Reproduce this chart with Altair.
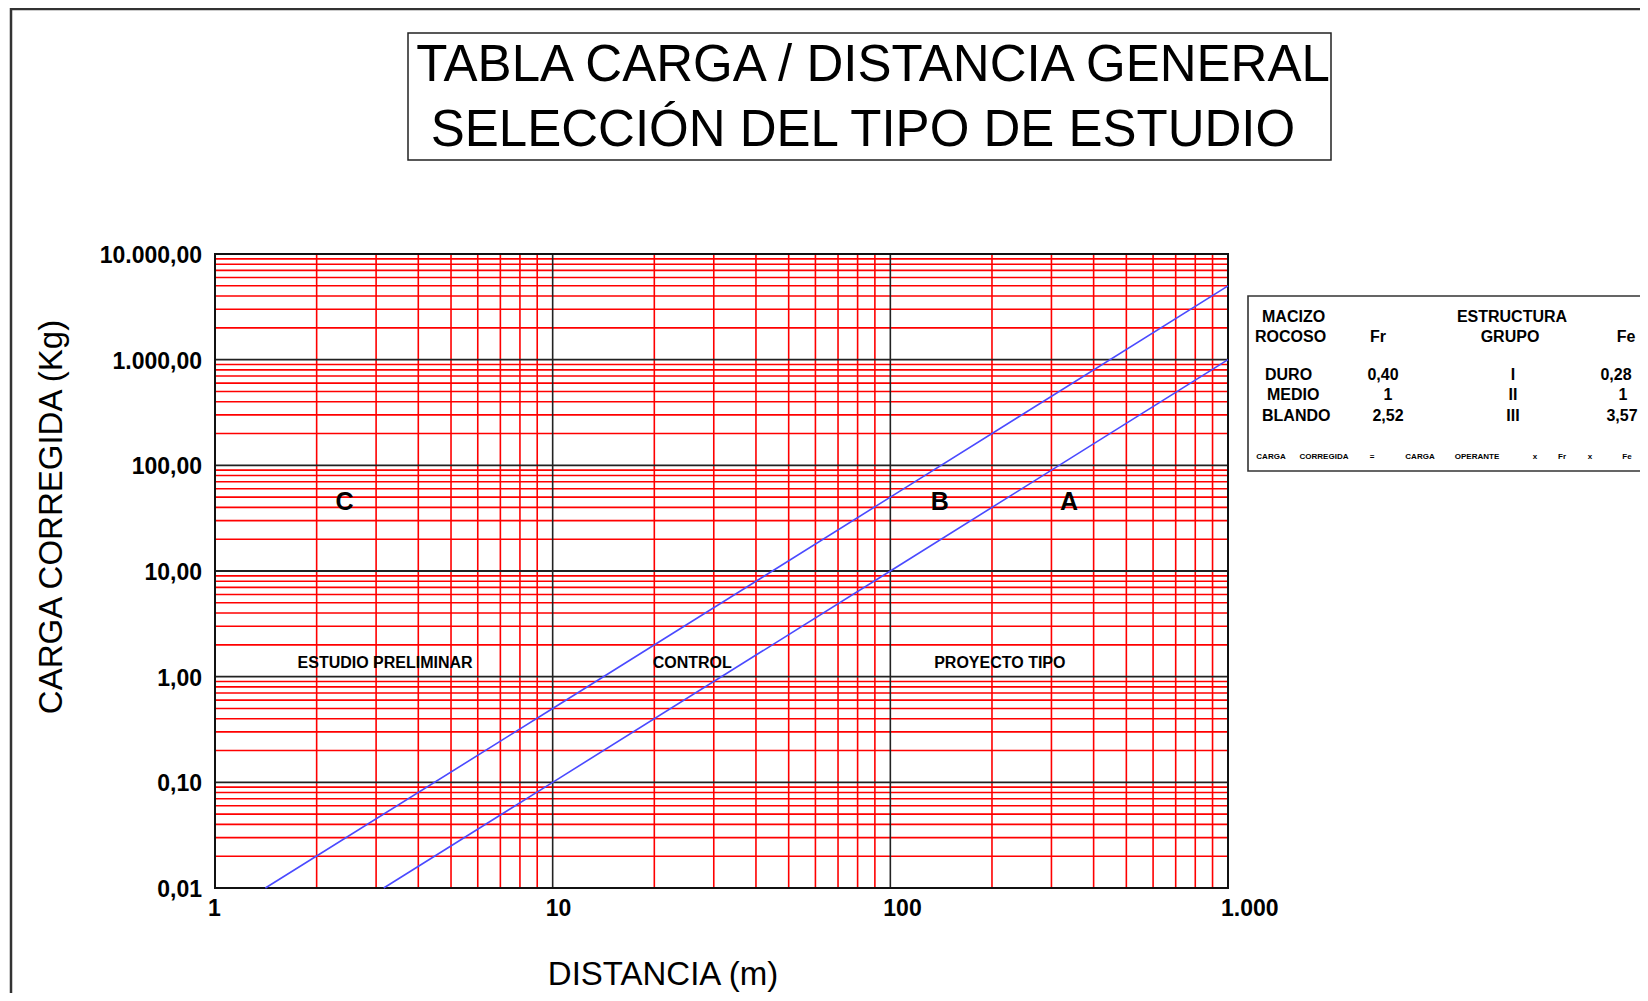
import altair as alt
import pandas as pd

# ---------------- data ----------------
x_minor = [2, 3, 4, 5, 6, 7, 8, 9, 20, 30, 40, 50, 60, 70, 80, 90,
           200, 300, 400, 500, 600, 700, 800, 900]
x_major = [10, 100]
y_minor = [0.02, 0.03, 0.04, 0.05, 0.06, 0.07, 0.08, 0.09,
           0.2, 0.3, 0.4, 0.5, 0.6, 0.7, 0.8, 0.9,
           2, 3, 4, 5, 6, 7, 8, 9,
           20, 30, 40, 50, 60, 70, 80, 90,
           200, 300, 400, 500, 600, 700, 800, 900,
           2000, 3000, 4000, 5000, 6000, 7000, 8000, 9000]
y_major = [0.1, 1, 10, 100, 1000]

x_ticks = [1, 10, 100, 1000]
x_tick_labels = ["1", "10", "100", "1.000"]
y_ticks = [0.01, 0.1, 1, 10, 100, 1000, 10000]
y_tick_labels = ["0,01", "0,10", "1,00", "10,00", "100,00", "1.000,00", "10.000,00"]

line_b_dist = [1.41, 10, 100, 1000]
line_b_load = [0.01, 0.5, 50, 5000]
line_a_dist = [3.16, 10, 100, 1000]
line_a_load = [0.01, 0.1, 10, 1000]

zone_letters = ["C", "B", "A"]
zone_letter_dist = [2.42, 140, 338]
zone_letter_load = [45, 45, 45]

zone_names = ["ESTUDIO PRELIMINAR", "CONTROL", "PROYECTO TIPO"]
zone_name_dist = [3.19, 25.9, 211]
zone_name_load = [1.36, 1.36, 1.36]

title_lines = ["TABLA CARGA / DISTANCIA GENERAL", "SELECCIÓN DEL TIPO DE ESTUDIO"]
x_title = "DISTANCIA (m)"
y_title = "CARGA CORREGIDA (Kg)"

# side table contents
tbl_left_text = ["MACIZO", "ROCOSO", "DURO", "MEDIO", "BLANDO"]
tbl_center_text = ["Fr", "ESTRUCTURA", "GRUPO", "Fe",
                   "0,40", "1", "2,52", "I", "II", "III", "0,28", "1", "3,57"]
formula_words = ["CARGA", "CORREGIDA", "=", "CARGA", "OPERANTE", "x", "Fr", "x", "Fe"]

# ---------------- layout (pixels, relative to plot origin) ----------------
W, H = 1013, 634
OX, OY = 215, 254  # plot origin on page
tbl_left_pos = [(1262, 322), (1255, 342), (1265, 380), (1267, 400), (1262, 421)]
tbl_center_pos = [(1378, 342), (1512, 322), (1510, 342), (1626, 342),
                  (1383, 380), (1388, 400), (1388, 421),
                  (1513, 380), (1513, 400), (1513, 421),
                  (1616, 380), (1623, 400), (1622, 421)]
formula_pos_x = [1271, 1324, 1372, 1420, 1477, 1535, 1562, 1590, 1627]
formula_y = 459

FONT = "Liberation Sans"
xscale = alt.Scale(type="log", domain=[1, 1000], nice=False)
yscale = alt.Scale(type="log", domain=[0.01, 10000], nice=False)

one = pd.DataFrame({"a": [0]})
PX = dict(scale=None, axis=None)


def pix_text(df, **mk):
    return alt.Chart(df).mark_text(font=FONT, color="black", **mk).encode(
        x=alt.X("px:Q", **PX), y=alt.Y("py:Q", **PX), text="t:N")


# outer frame
outer = alt.Chart(one).mark_rect(fillOpacity=0, stroke="#333", strokeWidth=2.5).encode(
    x=alt.value(11 - OX), x2=alt.value(1700 - OX),
    y=alt.value(9 - OY), y2=alt.value(1050 - OY))

# title box
title_box = alt.Chart(one).mark_rect(fillOpacity=0, stroke="#222", strokeWidth=1.5).encode(
    x=alt.value(408 - OX), x2=alt.value(1331 - OX),
    y=alt.value(33 - OY), y2=alt.value(160 - OY))

title_txt = pix_text(pd.DataFrame({"t": title_lines,
                                   "px": [873 - OX, 863 - OX],
                                   "py": [81 - OY, 146 - OY]}),
                     fontSize=51, align="center", baseline="alphabetic")

# axis titles
ytitle = pix_text(pd.DataFrame({"t": [y_title], "px": [52 - OX], "py": [517 - OY]}),
                  fontSize=33, angle=270, align="center", baseline="middle")
xtitle = pix_text(pd.DataFrame({"t": [x_title], "px": [663 - OX], "py": [975 - OY]}),
                  fontSize=33, align="center", baseline="middle")

# grid
vx_minor = alt.Chart(pd.DataFrame({"v": x_minor})).mark_rule(color="#ff0000", strokeWidth=1.6).encode(
    x=alt.X("v:Q", scale=xscale, axis=None))
hy_minor = alt.Chart(pd.DataFrame({"v": y_minor})).mark_rule(color="#ff0000", strokeWidth=1.6).encode(
    y=alt.Y("v:Q", scale=yscale, axis=None))
vx_major = alt.Chart(pd.DataFrame({"v": x_major})).mark_rule(color="#222", strokeWidth=1.6).encode(
    x=alt.X("v:Q", scale=xscale, axis=None))
hy_major = alt.Chart(pd.DataFrame({"v": y_major})).mark_rule(color="#222", strokeWidth=1.8).encode(
    y=alt.Y("v:Q", scale=yscale, axis=None))

# plot frame
frame = alt.Chart(one).mark_rect(fillOpacity=0, stroke="#111", strokeWidth=2).encode(
    x=alt.value(0), x2=alt.value(W), y=alt.value(0), y2=alt.value(H))

# tick labels
xlab = alt.Chart(pd.DataFrame({"v": x_ticks, "t": x_tick_labels})).mark_text(
    font=FONT, fontSize=23, fontWeight="bold", align="left", baseline="top", dx=-7,
    color="black").encode(
    x=alt.X("v:Q", scale=xscale, axis=None), y=alt.value(H + 10), text="t:N")
ylab = alt.Chart(pd.DataFrame({"v": y_ticks, "t": y_tick_labels})).mark_text(
    font=FONT, fontSize=23, fontWeight="bold", align="right", baseline="middle", dy=2,
    color="black").encode(
    y=alt.Y("v:Q", scale=yscale, axis=None), x=alt.value(-13), text="t:N")

# blue limit lines
lines_df = pd.DataFrame({
    "d": line_b_dist + line_a_dist,
    "q": line_b_load + line_a_load,
    "s": ["B"] * len(line_b_dist) + ["A"] * len(line_a_dist),
})
lines = alt.Chart(lines_df).mark_line(color="#4a4aff", strokeWidth=1.6).encode(
    x=alt.X("d:Q", scale=xscale, axis=None),
    y=alt.Y("q:Q", scale=yscale, axis=None),
    detail="s:N")

letters = alt.Chart(pd.DataFrame({"t": zone_letters, "d": zone_letter_dist, "q": zone_letter_load})).mark_text(
    font=FONT, fontSize=25, fontWeight="bold", align="center", baseline="middle", color="black").encode(
    x=alt.X("d:Q", scale=xscale, axis=None), y=alt.Y("q:Q", scale=yscale, axis=None), text="t:N")

names = alt.Chart(pd.DataFrame({"t": zone_names, "d": zone_name_dist, "q": zone_name_load})).mark_text(
    font=FONT, fontSize=16, fontWeight="bold", align="center", baseline="middle", color="black").encode(
    x=alt.X("d:Q", scale=xscale, axis=None), y=alt.Y("q:Q", scale=yscale, axis=None), text="t:N")

# side table
tbl_box = alt.Chart(one).mark_rect(fillOpacity=0, stroke="#333", strokeWidth=1.6).encode(
    x=alt.value(1248 - OX), x2=alt.value(1700 - OX),
    y=alt.value(296 - OY), y2=alt.value(471 - OY))

tbl_left = pix_text(pd.DataFrame({"t": tbl_left_text,
                                  "px": [p[0] - OX for p in tbl_left_pos],
                                  "py": [p[1] - OY for p in tbl_left_pos]}),
                    fontSize=16, fontWeight="bold", align="left", baseline="alphabetic")
tbl_center = pix_text(pd.DataFrame({"t": tbl_center_text,
                                    "px": [p[0] - OX for p in tbl_center_pos],
                                    "py": [p[1] - OY for p in tbl_center_pos]}),
                      fontSize=16, fontWeight="bold", align="center", baseline="alphabetic")
tbl_formula = pix_text(pd.DataFrame({"t": formula_words,
                                     "px": [x - OX for x in formula_pos_x],
                                     "py": [formula_y - OY] * len(formula_words)}),
                       fontSize=8, fontWeight="bold", align="center", baseline="alphabetic")

chart = alt.layer(
    outer, title_box, title_txt, ytitle, xtitle,
    vx_minor, hy_minor, vx_major, hy_major, frame, lines, letters, names,
    xlab, ylab, tbl_box, tbl_left, tbl_center, tbl_formula,
).properties(
    width=W, height=H,
    autosize=alt.AutoSizeParams(type="none"),
    padding={"left": OX - 8, "top": OY - 8, "right": 1632 - (OX - 8) - W, "bottom": 985 - (OY - 8) - H},
    background="white",
).configure_view(stroke=None)

chart.save("out.html", embed_options={"renderer": "svg", "actions": False})
